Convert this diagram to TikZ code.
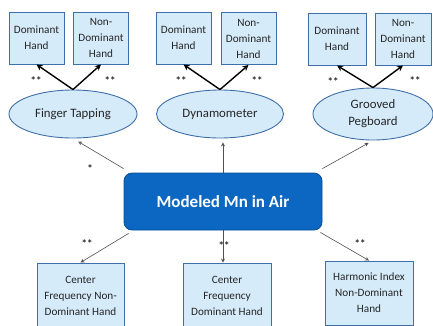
\documentclass[tikz,border=0pt]{standalone}
\usepackage{fontspec}
\setmainfont{Carlito}
\usetikzlibrary{arrows.meta,shapes.geometric}
\definecolor{boxfill}{HTML}{D5EBFA}
\definecolor{boxline}{HTML}{3F6FA8}
\definecolor{hubfill}{HTML}{0B67C2}
\definecolor{hubline}{HTML}{0A4F97}
\definecolor{inkc}{HTML}{262626}
\definecolor{linkc}{HTML}{505050}
\begin{document}
\begin{tikzpicture}[x=1pt,y=-1pt,
  box/.style={rectangle, draw=boxline, fill=boxfill, line width=0.9pt,
    align=center, inner sep=0pt, text=inkc, font=\fontsize{11.2}{16}\selectfont},
  oval/.style={ellipse, draw=boxline, fill=boxfill, line width=0.9pt,
    align=center, inner sep=0pt, text=inkc, font=\fontsize{12.8}{17}\selectfont},
  hub/.style={rectangle, rounded corners=8pt, draw=hubline, fill=hubfill,
    line width=0.8pt, text=white, inner sep=0pt,
    font=\bfseries\fontsize{17}{20}\selectfont},
  bold link/.style={line width=1.4pt, black, -{Stealth[length=6pt,width=6pt]}},
  thin link/.style={line width=0.6pt, linkc, -{Stealth[length=4pt,width=4pt,open]}},
  sig/.style={inner sep=0pt, text=inkc, font=\bfseries\fontsize{11}{11}\selectfont}]
\useasboundingbox (0,0) rectangle (433,325);
\clip (0,0) rectangle (433,325);

% top row: hand boxes
\node[box, minimum width=55pt, minimum height=52pt] (d1) at (36.5,38) {Dominant\\Hand};
\node[box, minimum width=55pt, minimum height=52pt] (n1) at (101,38) {Non-\\Dominant\\Hand};
\node[box, minimum width=55pt, minimum height=52pt] (d2) at (183.5,38) {Dominant\\Hand};
\node[box, minimum width=55pt, minimum height=52pt] (n2) at (248.5,38.5) {Non-\\Dominant\\Hand};
\node[box, minimum width=58pt, minimum height=52pt] (d3) at (337,39) {Dominant\\Hand};
\node[box, minimum width=56pt, minimum height=52pt] (n3) at (403,39) {Non-\\Dominant\\Hand};

% middle row: tests
\node[oval, minimum width=128pt, minimum height=48pt] (e1) at (73,114) {Finger Tapping};
\node[oval, minimum width=127pt, minimum height=48pt] (e2) at (220,114) {Dynamometer};
\node[oval, minimum width=120pt, minimum height=52pt] (e3) at (373,114) {Grooved\\Pegboard};

% central node
\node[hub, minimum width=198pt, minimum height=57pt] (c) at (223,201.5) {Modeled Mn in Air};

% bottom row: spectral measures
\node[box, minimum width=87pt, minimum height=66pt] (b1) at (80.5,296) {Center\\Frequency Non-\\Dominant Hand};
\node[box, minimum width=88pt, minimum height=66pt] (b2) at (227,296) {Center\\Frequency\\Dominant Hand};
\node[box, minimum width=88pt, minimum height=64pt] (b3) at (369,293) {Harmonic Index\\Non-Dominant\\Hand};

% tests to hands
\draw[bold link] (e1.north) -- (d1.south);
\draw[bold link] (e1.north) -- (n1.south);
\draw[bold link] (e2.north) -- (d2.south);
\draw[bold link] (e2.north) -- (n2.south);
\draw[bold link] (e3.north) -- (d3.south);
\draw[bold link] (e3.north) -- (n3.south);

% central node to tests
\draw[thin link, shorten >=6pt] ([yshift=4pt]c.north west) -- (e1.south);
\draw[thin link, shorten >=4pt] (c.north) -- (c.north |- e2.south);
\draw[thin link, shorten >=5pt] ([yshift=4pt]c.north east) -- (e3.south);

% central node to bottom measures
\draw[thin link] ([xshift=5pt,yshift=-3pt]c.south west) -- (b1.north);
\draw[thin link] (c.south) -- (c.south |- b2.north);
\draw[thin link] ([xshift=-2pt,yshift=-2pt]c.south east) -- (b3.north);

% significance marks
\node[sig] (s1) at (36,81) {**};
\node[sig] (s2) at (110,81) {**};
\node[sig] (s3) at (181,81) {**};
\node[sig] (s4) at (257,81) {**};
\node[sig] (s5) at (333,82) {**};
\node[sig] (s6) at (415,81) {**};
\node[sig] (s7) at (90,169) {*};
\node[sig] (s8) at (87,244) {**};
\node[sig] (s9) at (224,246) {**};
\node[sig] (s10) at (360,244) {**};
\end{tikzpicture}
\end{document}
